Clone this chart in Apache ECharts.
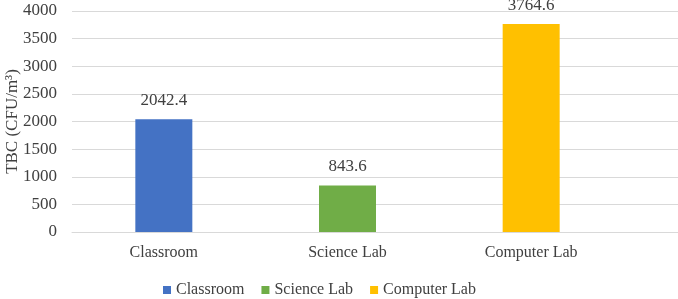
<!DOCTYPE html>
<html>
<head>
<meta charset="utf-8">
<script src="https://cdn.jsdelivr.net/npm/echarts@6/dist/echarts.min.js"></script>
<style>
  html, body { margin: 0; padding: 0; background: #fff; }
  #tbc-chart { width: 678px; height: 299px; }
</style>
</head>
<body>
<div id="tbc-chart"></div>
<script>
const CATEGORIES = ['Classroom', 'Science Lab', 'Computer Lab'];
const TBC_VALUES = [2042.4, 843.6, 3764.6];
const BAR_COLORS = ['#4472C4', '#70AD47', '#FFC000'];
const Y_MIN = 0;
const Y_MAX = 4000;
const Y_STEP = 500;

const FONT = "'Liberation Serif', 'Times New Roman', serif";
const TEXT_COLOR = '#404040';
const LINE_COLOR = '#d9d9d9';

let tbc_chart = echarts.init(document.getElementById('tbc-chart'));

// one series per location so the legend shows all three colours
let bar_series = CATEGORIES.map(function (name, i) {
    return {
        name: name,
        type: 'bar',
        stack: 'tbc',
        xAxisIndex: 0,
        yAxisIndex: 0,
        barWidth: 57,
        itemStyle: { color: BAR_COLORS[i] },
        label: {
            show: true,
            position: 'top',
            distance: 10,
            fontFamily: FONT,
            fontSize: 17,
            color: TEXT_COLOR
        },
        data: CATEGORIES.map(function (c, j) { return j === i ? TBC_VALUES[i] : '-'; })
    };
});

let echarts_options = {
    animation: false,
    textStyle: { fontFamily: FONT },
    legend: {
        data: CATEGORIES,
        left: 163,
        top: 282,
        padding: 0,
        icon: 'rect',
        itemWidth: 8,
        itemHeight: 8,
        itemGap: 17,
        textStyle: { fontFamily: FONT, fontSize: 16, color: TEXT_COLOR }
    },
    grid: [
        { left: 72, right: 55, top: 11, bottom: 67, outerBoundsMode: 'none' },
        { left: 72, right: 0, top: 11, bottom: 67, outerBoundsMode: 'none' }
    ],
    xAxis: [
        {
            type: 'category',
            gridIndex: 0,
            data: CATEGORIES,
            axisLine: { show: false },
            axisTick: { show: false },
            axisLabel: { margin: 13, fontFamily: FONT, fontSize: 16, color: TEXT_COLOR }
        },
        {
            type: 'category',
            gridIndex: 1,
            data: CATEGORIES,
            axisLine: { show: true, lineStyle: { color: LINE_COLOR, width: 1 } },
            axisTick: { show: false },
            axisLabel: { show: false }
        }
    ],
    yAxis: [
        {
            type: 'value',
            gridIndex: 0,
            min: Y_MIN,
            max: Y_MAX,
            interval: Y_STEP,
            name: 'TBC (CFU/m³)',
            nameLocation: 'middle',
            nameGap: 51,
            nameMoveOverlap: false,
            nameTextStyle: { fontFamily: FONT, fontSize: 17, color: TEXT_COLOR },
            axisLine: { show: false },
            axisTick: { show: false },
            splitLine: { show: false },
            axisLabel: {
                margin: 15,
                fontFamily: FONT,
                fontSize: 17,
                color: TEXT_COLOR,
                formatter: function (v) { return String(v); }
            }
        },
        {
            type: 'value',
            gridIndex: 1,
            min: Y_MIN,
            max: Y_MAX,
            interval: Y_STEP,
            axisLine: { show: false },
            axisTick: { show: false },
            axisLabel: { show: false },
            splitLine: { show: true, lineStyle: { color: LINE_COLOR, width: 1 } }
        }
    ],
    series: bar_series
};

tbc_chart.setOption(echarts_options);

window.addEventListener('resize', function () {
    tbc_chart?.resize();
});
</script>
</body>
</html>
